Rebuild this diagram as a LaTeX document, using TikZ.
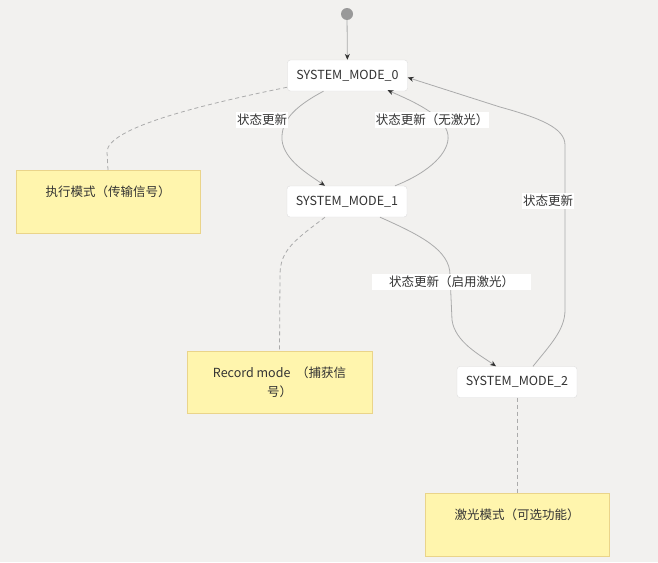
\documentclass[tikz,border=0pt]{standalone}
\usepackage{fontspec}
\setmainfont{Noto Sans CJK SC}
\usetikzlibrary{arrows.meta}
\definecolor{bg}{HTML}{F2F1EF}
\definecolor{stateline}{HTML}{DDDDDD}
\definecolor{notefill}{HTML}{FFF5AD}
\definecolor{noteline}{HTML}{EAD48A}
\definecolor{edgeline}{HTML}{ABABAB}
\definecolor{tipcol}{HTML}{333333}
\definecolor{startcol}{HTML}{999999}
\tikzset{
  state/.style={draw=stateline,fill=white,rounded corners=3pt,minimum width=120pt,minimum height=31pt,inner sep=0pt},
  note/.style={draw=noteline,fill=notefill,minimum width=184pt,inner sep=0pt,text height=26.5pt,text depth=36pt,align=center,anchor=north},
  trans/.style={draw=edgeline,line width=0.8pt,-{Stealth[length=6pt,width=5pt,color=tipcol]}},
  link/.style={draw=edgeline,line width=0.8pt,dash pattern=on 4pt off 3pt},
  lbl/.style={fill=white,inner xsep=1pt,inner ysep=2pt}
}
\begin{document}
\begin{tikzpicture}[x=1pt,y=-1pt,every node/.style={font=\fontsize{12.5}{16}\selectfont,text=black!80}]
\useasboundingbox[fill=bg] (0,0) rectangle (658,562);
\node[circle,fill=startcol,minimum size=12pt,inner sep=0pt] (start) at (347,14) {};
\node[state] (mode0) at (347.5,75.5) {SYSTEM\_MODE\_0};
\node[state] (mode1) at (347,201.5) {SYSTEM\_MODE\_1};
\node[state] (mode2) at (517,382) {SYSTEM\_MODE\_2};
\node[note] (note1) at (108,170) {执行模式（传输信号）};
\node[note,minimum width=185pt,font=\fontsize{12.5}{19}\selectfont,text height=45.5pt,text depth=16.5pt] (note2) at (279.5,351) {Record mode\ \ （捕获信\\号）};
\node[note] (note3) at (517,493) {激光模式（可选功能）};
\draw[trans] (start) -- (mode0);
\draw[trans] ([xshift=-24pt]mode0.south) .. controls (292,108) and (281,122) .. (282,140)
  .. controls (284,160) and (308,174) .. ([xshift=-22pt]mode1.north);
\draw[trans] ([xshift=48pt]mode1.north) .. controls (430,172) and (450,152) .. (448,135)
  .. controls (445,115) and (412,101) .. ([xshift=40pt,yshift=1pt]mode0.south);
\draw[trans] ([xshift=33pt]mode1.south) .. controls (420,235) and (450,250) .. (450,275) -- (452,320)
  .. controls (455,342) and (480,355) .. ([xshift=-21pt]mode2.north);
\draw[trans] ([xshift=16pt]mode2.north) .. controls (550,345) and (565,330) .. (565,310) -- (565,145)
  .. controls (565,128) and (540,118) .. (500,107) -- ([yshift=-2pt]mode0.east);
\draw[link] (note1.north) -- (107,152) .. controls (107,128) and (200,105) .. ([yshift=4pt]mode0.south west);
\draw[link] ([xshift=-22pt]mode1.south) .. controls (295,240) and (280,250) .. (280,275) -- (note2.north);
\draw[link] (mode2.south) -- (note3.north);
\node[lbl] (lab01) at (262,120) {状态更新};
\node[lbl] (lab10) at (432,120) {状态更新（无激光）};
\node[lbl,minimum width=159pt] (lab12) at (451.5,282) {状态更新（启用激光）};
\node[lbl] (lab20) at (548,201) {状态更新};
\end{tikzpicture}
\end{document}
